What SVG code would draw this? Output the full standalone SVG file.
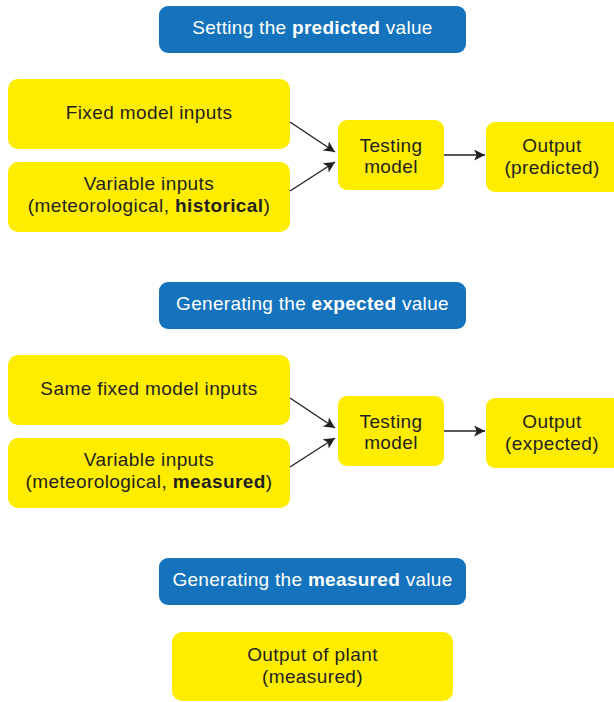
<svg xmlns="http://www.w3.org/2000/svg" width="614" height="702" viewBox="0 0 614 702">
<defs>
<style>
.hdr{fill:#1473BC}
.box{fill:#FFED00}
.ht{font-family:"Liberation Sans",Arial,sans-serif;font-size:19px;letter-spacing:0.3px;fill:#ffffff;text-anchor:middle}
.bt{font-family:"Liberation Sans",Arial,sans-serif;font-size:19px;letter-spacing:0.4px;fill:#231F20;text-anchor:middle}
.b{font-weight:bold}
.conn{stroke:#231F20;stroke-width:1.3;fill:none;marker-end:url(#ah)}
</style>
<marker id="ah" viewBox="0 0 10 10" refX="10" refY="5" markerWidth="11" markerHeight="11" markerUnits="userSpaceOnUse" orient="auto">
<path d="M0,0 L10,5 L0,10 L2.5,5 Z" fill="#231F20"/>
</marker>
</defs>
<rect width="614" height="702" fill="#ffffff"/>

<g id="hdr1"><rect class="hdr" x="159" y="6" width="307" height="47" rx="9"/><text class="ht" x="312.5" y="34">Setting the <tspan class="b">predicted</tspan> value</text></g>
<g id="fixed1"><rect class="box" x="8" y="79" width="282" height="70" rx="10"/><text class="bt" x="149" y="119">Fixed model inputs</text></g>
<g id="var1"><rect class="box" x="8" y="162" width="282" height="70" rx="10"/><text class="bt" x="149" y="190">Variable inputs</text><text class="bt" x="149" y="212">(meteorological, <tspan class="b">historical</tspan>)</text></g>
<g id="test1"><rect class="box" x="338" y="120" width="106" height="70" rx="9"/><text class="bt" x="391" y="152">Testing</text><text class="bt" x="391" y="173">model</text></g>
<g id="out1"><rect class="box" x="486" y="122" width="140" height="70" rx="9"/><text class="bt" x="552" y="152">Output</text><text class="bt" x="552" y="174">(predicted)</text></g>

<g id="hdr2"><rect class="hdr" x="159" y="282" width="307" height="47" rx="9"/><text class="ht" x="312.5" y="310">Generating the <tspan class="b">expected</tspan> value</text></g>
<g id="fixed2"><rect class="box" x="8" y="355" width="282" height="70" rx="10"/><text class="bt" x="149" y="395">Same fixed model inputs</text></g>
<g id="var2"><rect class="box" x="8" y="438" width="282" height="70" rx="10"/><text class="bt" x="149" y="466">Variable inputs</text><text class="bt" x="149" y="488">(meteorological, <tspan class="b">measured</tspan>)</text></g>
<g id="test2"><rect class="box" x="338" y="396" width="106" height="70" rx="9"/><text class="bt" x="391" y="428">Testing</text><text class="bt" x="391" y="449">model</text></g>
<g id="out2"><rect class="box" x="486" y="398" width="140" height="70" rx="9"/><text class="bt" x="552" y="428">Output</text><text class="bt" x="552" y="450">(expected)</text></g>

<g id="hdr3"><rect class="hdr" x="159" y="558" width="307" height="47" rx="9"/><text class="ht" x="312.5" y="586">Generating the <tspan class="b">measured</tspan> value</text></g>
<g id="plant"><rect class="box" x="172" y="632" width="281" height="69" rx="10"/><text class="bt" x="312.5" y="661">Output of plant</text><text class="bt" x="312.5" y="683">(measured)</text></g>

<g id="connectors">
<line class="conn" x1="290" y1="122" x2="335" y2="152"/>
<line class="conn" x1="290" y1="191" x2="335" y2="162"/>
<line class="conn" x1="444" y1="155" x2="485" y2="155"/>
<line class="conn" x1="290" y1="398" x2="335" y2="428"/>
<line class="conn" x1="290" y1="467" x2="335" y2="438"/>
<line class="conn" x1="444" y1="431" x2="485" y2="431"/>
</g>
</svg>
